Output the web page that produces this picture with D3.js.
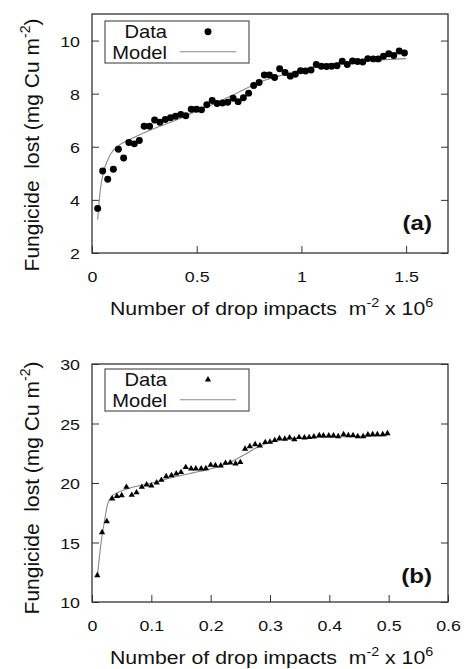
<!DOCTYPE html>
<html>
<head>
<meta charset="utf-8">
<script src="https://cdn.jsdelivr.net/npm/d3@7"></script>
<style>
  body { margin: 0; background: #fff; }
  text { font-family: "Liberation Sans", Arial, Helvetica, sans-serif; fill: #111; white-space: pre; }
</style>
</head>
<body>
<div id="chart"></div>
<script>
// panel (a) - measured points
var impactsA = [0.027, 0.051, 0.075, 0.102, 0.126, 0.151, 0.176, 0.202, 0.226, 0.249,
  0.275, 0.299, 0.324, 0.350, 0.375, 0.399, 0.424, 0.448, 0.474, 0.499,
  0.523, 0.548, 0.574, 0.597, 0.623, 0.648, 0.674, 0.698, 0.723, 0.748,
  0.772, 0.798, 0.823, 0.847, 0.872, 0.896, 0.922, 0.947, 0.971, 0.996,
  1.020, 1.046, 1.071, 1.095, 1.120, 1.144, 1.170, 1.195, 1.219, 1.244,
  1.268, 1.293, 1.317, 1.343, 1.367, 1.392, 1.417, 1.441, 1.467, 1.492];
var lostA = [3.68, 5.09, 4.78, 5.15, 5.91, 5.58, 6.16, 6.11, 6.24, 6.77,
  6.77, 7.01, 6.92, 7.03, 7.09, 7.15, 7.22, 7.17, 7.41, 7.41,
  7.39, 7.58, 7.74, 7.63, 7.65, 7.68, 7.83, 7.70, 7.85, 8.02,
  8.31, 8.42, 8.70, 8.70, 8.61, 8.94, 8.80, 8.66, 8.73, 8.86,
  8.85, 8.89, 9.10, 9.03, 9.02, 9.03, 9.05, 9.22, 9.10, 9.23,
  9.21, 9.19, 9.32, 9.31, 9.31, 9.41, 9.50, 9.44, 9.61, 9.53];
// panel (a) - model curve
var modelImpactsA = [0.027, 0.04, 0.055, 0.075, 0.1, 0.125, 0.2, 0.3, 0.4, 0.5,
  0.6, 0.7, 0.8, 0.9, 1.0, 1.1, 1.2, 1.3, 1.4, 1.5];
var modelLostA = [3.25, 4.4, 5.05, 5.5, 5.85, 6.03, 6.35, 6.7, 7.0, 7.35,
  7.68, 8.05, 8.43, 8.68, 8.9, 9.08, 9.17, 9.24, 9.28, 9.32];
var xTicksA = [0, 0.5, 1, 1.5];
var yTicksA = [2, 4, 6, 8, 10];

// panel (b) - measured points
var impactsB = [0.009, 0.017, 0.025, 0.034, 0.042, 0.050, 0.058, 0.067, 0.075, 0.084,
  0.092, 0.100, 0.109, 0.117, 0.125, 0.134, 0.142, 0.150, 0.158, 0.167,
  0.175, 0.184, 0.192, 0.200, 0.208, 0.217, 0.225, 0.233, 0.242, 0.250,
  0.258, 0.266, 0.275, 0.283, 0.292, 0.300, 0.308, 0.316, 0.325, 0.333,
  0.341, 0.349, 0.358, 0.366, 0.374, 0.383, 0.390, 0.399, 0.407, 0.415,
  0.424, 0.432, 0.440, 0.448, 0.457, 0.465, 0.473, 0.481, 0.490, 0.498];
var lostB = [12.24, 15.85, 16.78, 18.68, 18.90, 18.96, 19.66, 18.99, 19.20, 19.66,
  19.86, 19.78, 20.03, 20.25, 20.56, 20.64, 20.78, 20.90, 21.32, 21.20,
  21.20, 21.20, 21.23, 21.51, 21.48, 21.46, 21.68, 21.71, 21.62, 21.74,
  22.86, 23.08, 23.25, 23.14, 23.42, 23.45, 23.59, 23.75, 23.70, 23.81,
  23.67, 23.84, 23.81, 23.84, 23.89, 24.00, 23.98, 23.98, 23.98, 23.92,
  24.09, 24.00, 24.00, 23.92, 23.92, 24.06, 24.09, 24.09, 24.09, 24.17];
// panel (b) - model curve
var modelImpactsB = [0.009, 0.016, 0.021, 0.026, 0.033, 0.042, 0.059, 0.101, 0.143, 0.182,
  0.216, 0.239, 0.261, 0.284, 0.301, 0.329, 0.351, 0.407, 0.498];
var modelLostB = [12.1, 15.24, 16.78, 18.18, 18.88, 19.16, 19.5, 20.0, 20.56, 20.98,
  21.4, 21.9, 22.5, 23.14, 23.42, 23.7, 23.78, 23.87, 23.98];
var xTicksB = [0, 0.1, 0.2, 0.3, 0.4, 0.5, 0.6];
var yTicksB = [10, 15, 20, 25, 30];

var width = 468;
var height = 669;
var stretch = 1.15; // text in the picture is a bit wider than Liberation Sans

const svg = d3.select("#chart")
  .append("svg")
  .attr("width", width)
  .attr("height", height)
  .attr("viewBox", [0, 0, width, height]);

function drawPanel(p) {
  var left = 92, right = 448;
  var x = d3.scaleLinear().domain(p.xDomain).range([left, right]);
  var y = d3.scaleLinear().domain(p.yDomain).range([p.bottom, p.top]);
  var g = svg.append("g");

  // bottom ticks + labels
  var xa = g.append("g")
    .attr("transform", `translate(0,${p.bottom})`)
    .call(d3.axisBottom(x).tickValues(p.xTicks).tickSize(-7).tickFormat(d3.format("")));
  xa.select(".domain").remove();
  xa.selectAll("line").attr("stroke", "#333");
  xa.selectAll("text")
    .attr("y", 29).attr("dy", null)
    .attr("font-size", 15.5)
    .attr("fill", "#111")
    .attr("transform", `scale(${stretch},1)`);

  // left ticks + labels
  var ya = g.append("g")
    .attr("transform", `translate(${left},0)`)
    .call(d3.axisLeft(y).tickValues(p.yTicks).tickSize(-7).tickFormat(d3.format("")));
  ya.select(".domain").remove();
  ya.selectAll("line").attr("stroke", "#333");
  ya.selectAll("text")
    .attr("x", -12 / stretch)
    .attr("dy", "0.36em")
    .attr("font-size", 15.5)
    .attr("fill", "#111")
    .attr("transform", `scale(${stretch},1)`);

  // mirrored ticks on the right
  var ra = g.append("g")
    .attr("transform", `translate(${right},0)`)
    .call(d3.axisRight(y).tickValues(p.yTicks).tickSize(-7).tickFormat(""));
  ra.select(".domain").remove();
  ra.selectAll("line").attr("stroke", "#333");

  // frame
  g.append("rect")
    .attr("x", left).attr("y", p.top)
    .attr("width", right - left).attr("height", p.bottom - p.top)
    .attr("fill", "none")
    .attr("stroke", "#333")
    .attr("stroke-width", 1.3);

  // model line
  var line = d3.line()
    .x((d, i) => x(p.modelX[i]))
    .y((d) => y(d))
    .curve(d3.curveMonotoneX);
  g.append("path")
    .attr("d", line(p.modelY))
    .attr("fill", "none")
    .attr("stroke", "#888")
    .attr("stroke-width", 1.1);

  // data marks
  var sym = d3.symbol().type(p.marker === "dot" ? d3.symbolCircle : d3.symbolTriangle)
    .size(p.marker === "dot" ? 38 : 17);
  g.selectAll("path.mark")
    .data(p.dataY)
    .join("path")
    .attr("class", "mark")
    .attr("transform", (d, i) => `translate(${x(p.dataX[i])},${y(d)})`)
    .attr("d", sym)
    .attr("fill", "#000");

  // legend
  var lg = g.append("g").attr("transform", `translate(105,${p.legendTop})`);
  lg.append("rect")
    .attr("width", 144).attr("height", 42)
    .attr("fill", "#fff")
    .attr("stroke", "#555")
    .attr("stroke-width", 1.2);
  lg.append("text")
    .attr("text-anchor", "end")
    .attr("font-size", 17.5)
    .attr("transform", `translate(62,17) scale(${stretch},1)`)
    .text("Data");
  lg.append("text")
    .attr("text-anchor", "end")
    .attr("font-size", 17.5)
    .attr("transform", `translate(62,38) scale(${stretch},1)`)
    .text("Model");
  lg.append("path")
    .attr("transform", "translate(103,10.7)")
    .attr("d", sym)
    .attr("fill", "#000");
  lg.append("line")
    .attr("x1", 75).attr("x2", 131)
    .attr("y1", 30.7).attr("y2", 30.7)
    .attr("stroke", "#888")
    .attr("stroke-width", 1.1);

  // panel tag
  g.append("text")
    .attr("text-anchor", "end")
    .attr("font-size", 21)
    .attr("font-weight", "bold")
    .attr("transform", `translate(432,${p.tagY}) scale(${stretch},1)`)
    .text(p.tag);

  // x title
  var xt = g.append("text")
    .attr("font-size", 18.5)
    .attr("transform", `translate(110,${p.bottom + 62}) scale(${stretch},1)`);
  xt.append("tspan").text("Number of drop impacts  m");
  xt.append("tspan").attr("dy", -8).attr("font-size", 12.5).text("-2");
  xt.append("tspan").attr("dy", 8).text(" x 10");
  xt.append("tspan").attr("dy", -8).attr("font-size", 12.5).text("6");

  // y title
  var yt = g.append("text")
    .attr("font-size", 21)
    .attr("text-anchor", "middle")
    .attr("transform", `translate(39,${p.yTitleMid}) rotate(-90)`);
  yt.append("tspan").text("Fungicide  lost (mg Cu m");
  yt.append("tspan").attr("dy", -9).attr("font-size", 14).text("-2");
  yt.append("tspan").attr("dy", 9).text(")");
}

drawPanel({
  xDomain: [0, 1.7], yDomain: [2, 11], top: 14, bottom: 253,
  xTicks: xTicksA, yTicks: yTicksA,
  dataX: impactsA, dataY: lostA, modelX: modelImpactsA, modelY: modelLostA,
  marker: "dot", legendTop: 21, tag: "(a)", tagY: 230, yTitleMid: 145
});

drawPanel({
  xDomain: [0, 0.6], yDomain: [10, 30], top: 364, bottom: 602,
  xTicks: xTicksB, yTicks: yTicksB,
  dataX: impactsB, dataY: lostB, modelX: modelImpactsB, modelY: modelLostB,
  marker: "triangle", legendTop: 369, tag: "(b)", tagY: 583, yTitleMid: 488
});
</script>
</body>
</html>
